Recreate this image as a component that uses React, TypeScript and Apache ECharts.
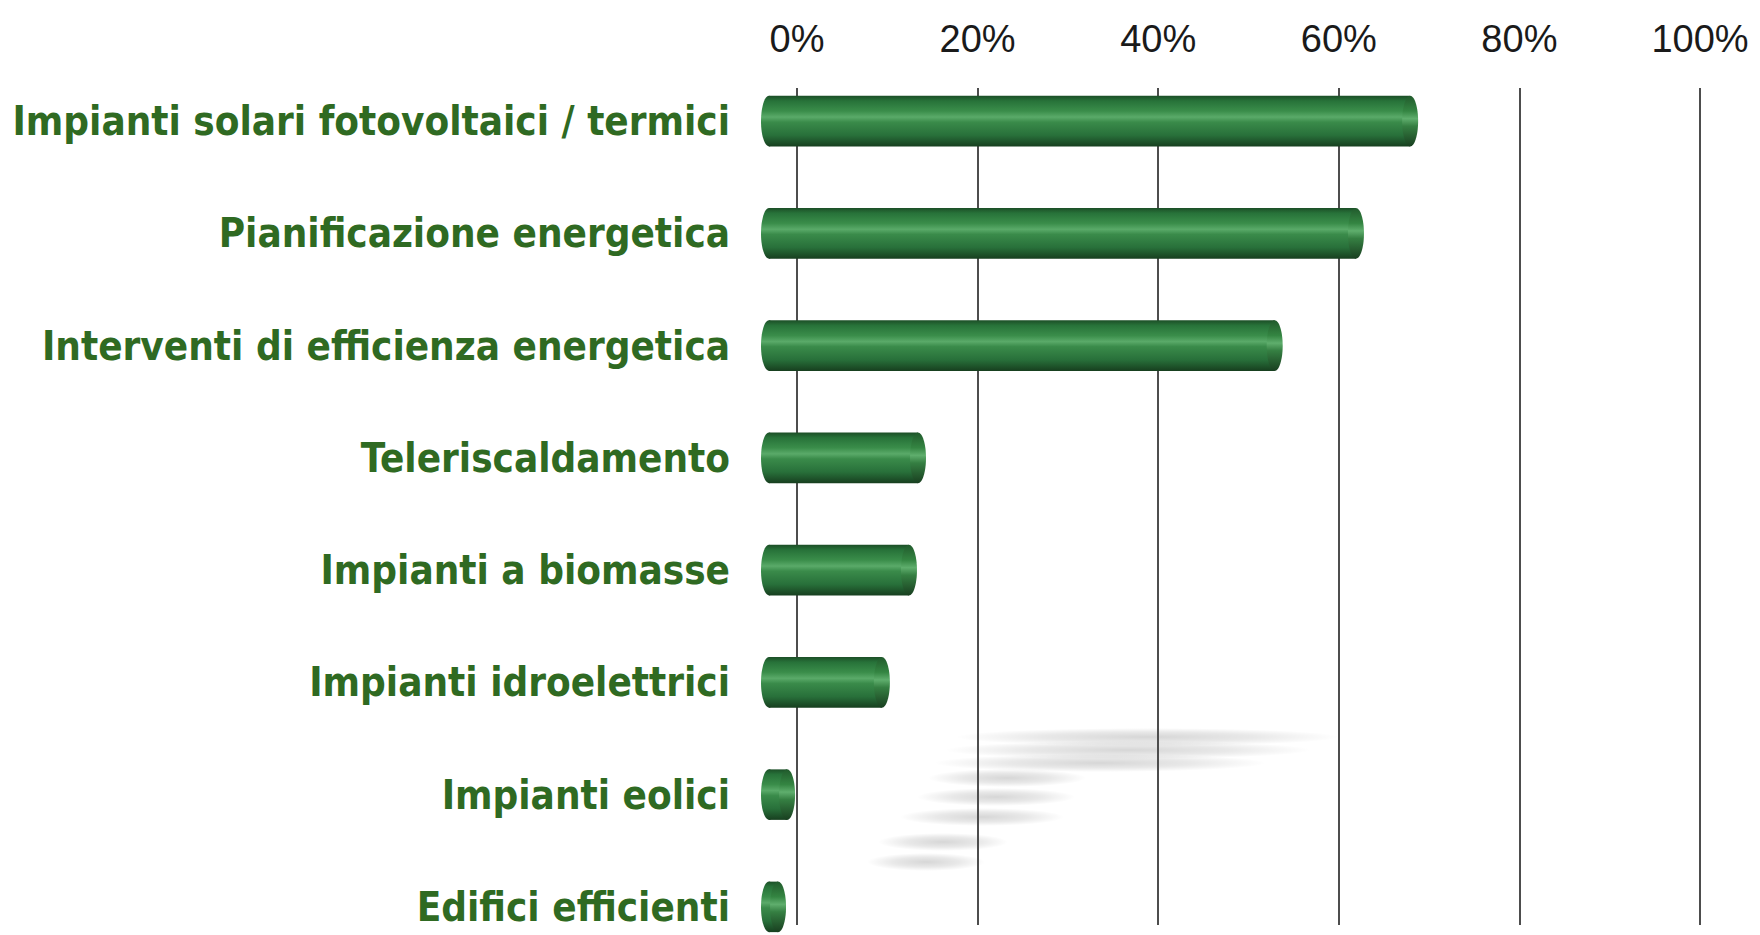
import React, { useEffect, useRef } from "react";
import * as echarts from "echarts";

const categories = [
  "Impianti solari fotovoltaici / termici",
  "Pianificazione energetica",
  "Interventi di efficienza energetica",
  "Teleriscaldamento",
  "Impianti a biomasse",
  "Impianti idroelettrici",
  "Impianti eolici",
  "Edifici efficienti",
];
const values = [71, 65, 56, 16.5, 15.5, 12.5, 2, 1];
const tickLabels = ["0%", "20%", "40%", "60%", "80%", "100%"];

const LABEL_FONT = "'Liberation Sans Narrow', 'DejaVu Sans Condensed', 'Liberation Sans', Arial, sans-serif";

export default function App() {
  const ref = useRef<HTMLDivElement>(null);
  useEffect(() => {
    if (!ref.current) return;
    const chart = echarts.init(ref.current, undefined, { renderer: "svg" });

    const bodyStops = [
      { offset: 0, color: "#1c4f27" },
      { offset: 0.1, color: "#277239" },
      { offset: 0.3, color: "#3a8d4a" },
      { offset: 0.42, color: "#5aaa69" },
      { offset: 0.52, color: "#3a8b4a" },
      { offset: 0.78, color: "#28703a" },
      { offset: 1, color: "#173f1f" },
    ];
    const capStops = [
      { offset: 0, color: "#215a2c" },
      { offset: 0.3, color: "#348542" },
      { offset: 0.45, color: "#5fae6d" },
      { offset: 0.6, color: "#357f42" },
      { offset: 1, color: "#193f20" },
    ];

    const renderItem = (params: any, api: any) => {
      const v = api.value(0);
      const idx = api.value(1);
      const p0 = api.coord([0, idx]);
      const p1 = api.coord([v, idx]);
      const band = api.size([0, 1])[1];
      const h = band * 0.45;
      const rx = 8;
      const offset = -28;
      const xs = p0[0] + offset;
      const xe = p1[0] + offset;
      const cy = p0[1];
      return {
        type: "group",
        children: [
          {
            type: "ellipse",
            shape: { cx: xs, cy, rx, ry: h / 2 },
            style: { fill: new echarts.graphic.LinearGradient(0, 0, 0, 1, bodyStops) },
          },
          {
            type: "rect",
            shape: { x: xs, y: cy - h / 2, width: Math.max(xe - xs, 0), height: h },
            style: { fill: new echarts.graphic.LinearGradient(0, 0, 0, 1, bodyStops) },
          },
          {
            type: "ellipse",
            shape: { cx: xe, cy, rx, ry: h / 2 },
            style: {
              fill: new echarts.graphic.LinearGradient(0, 0, 0, 1, capStops),
            },
          },
        ],
      };
    };

    const shadows = [
      [976, 737, 343],
      [965, 750, 326],
      [954, 763, 292],
      [948, 778, 118],
      [937, 797, 118],
      [920, 817, 124],
      [898, 842, 90],
      [887, 862, 78],
    ].map(([x, y, w]) => ({
      type: "ellipse",
      silent: true,
      shape: { cx: x + w / 2, cy: y, rx: w / 2 + 20, ry: 9 },
      style: {
        fill: new echarts.graphic.RadialGradient(0.5, 0.5, 0.5, [
          { offset: 0, color: "rgba(0,0,0,0.16)" },
          { offset: 0.55, color: "rgba(0,0,0,0.09)" },
          { offset: 1, color: "rgba(0,0,0,0)" },
        ]),
      },
      z: -1,
    }));

    chart.setOption({
      animation: false,
      backgroundColor: "#ffffff",
      graphic: shadows,
      grid: [
        { left: 797, right: 60, top: 65, height: 898, outerBoundsMode: "none", containLabel: false },
        { left: 797, right: 60, top: 88, bottom: 10, outerBoundsMode: "none", containLabel: false },
      ],
      xAxis: [
        {
          gridIndex: 0,
          type: "value",
          min: 0,
          max: 100,
          interval: 20,
          show: false,
          splitLine: { show: false },
        },
        {
          gridIndex: 1,
          type: "value",
          position: "top",
          min: 0,
          max: 100,
          interval: 20,
          axisLine: { show: false },
          axisTick: { show: false },
          splitLine: { show: true, lineStyle: { color: "#4d4d4d", width: 2 } },
          axisLabel: {
            formatter: (val: number) => tickLabels[Math.round(val / 20)],
            fontSize: 38,
            color: "#1a1a1a",
            fontFamily: "'Liberation Sans', Arial, sans-serif",
            margin: 30,
          },
        },
      ],
      yAxis: [
        {
          gridIndex: 0,
          type: "category",
          data: categories,
          inverse: true,
          axisLine: { show: false },
          axisTick: { show: false },
          splitLine: { show: false },
          axisLabel: {
            color: "#2f6a22",
            fontWeight: "bold",
            fontSize: 40,
            fontFamily: LABEL_FONT,
            margin: 67,
          },
        },
        { gridIndex: 1, type: "value", show: false, min: 0, max: 1 },
      ],
      series: [
        {
          type: "custom",
          xAxisIndex: 0,
          yAxisIndex: 0,
          renderItem,
          clip: false,
          encode: { x: 0, y: 1 },
          data: values.map((v, i) => [v, i]),
          z: 5,
        },
      ],
    });
    return () => chart.dispose();
  }, []);
  return (
    <div
      ref={ref}
      style={{ position: "fixed", left: 0, top: 0, width: 1760, height: 935, background: "#fff" }}
    />
  );
}
